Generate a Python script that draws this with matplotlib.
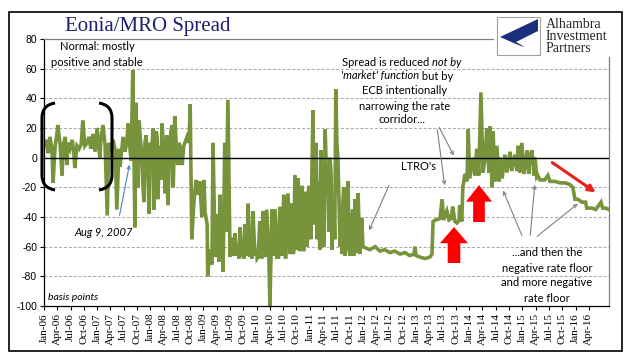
import matplotlib.pyplot as plt
import matplotlib.patches as mpatches
from matplotlib.path import Path
import numpy as np

# ---------------------- data (decimal year, spread in bp) ----------------------
years = [
    2006.00, 2006.04, 2006.08, 2006.11, 2006.15, 2006.17, 2006.21, 2006.24, 2006.26, 2006.30,
    2006.34, 2006.36, 2006.40, 2006.43, 2006.45, 2006.49, 2006.53, 2006.56, 2006.58, 2006.62,
    2006.66, 2006.70, 2006.73, 2006.77, 2006.81, 2006.85, 2006.88, 2006.92, 2006.96, 2007.00,
    2007.03, 2007.05, 2007.07, 2007.11, 2007.15, 2007.19, 2007.22, 2007.26, 2007.30, 2007.34,
    2007.37, 2007.41, 2007.43, 2007.47, 2007.49, 2007.52, 2007.56, 2007.58, 2007.62, 2007.64,
    2007.67, 2007.69, 2007.71, 2007.73, 2007.77, 2007.81, 2007.84, 2007.86, 2007.90, 2007.94,
    2007.98, 2008.00, 2008.03, 2008.05, 2008.09, 2008.13, 2008.14, 2008.18, 2008.22, 2008.26,
    2008.28, 2008.31, 2008.33, 2008.37, 2008.41, 2008.45, 2008.46, 2008.50, 2008.54, 2008.58,
    2008.60, 2008.63, 2008.69, 2008.73, 2008.75, 2008.78, 2008.82, 2008.86, 2008.90, 2008.93,
    2008.97, 2009.01, 2009.03, 2009.07, 2009.08, 2009.12, 2009.16, 2009.18, 2009.22, 2009.25,
    2009.29, 2009.31, 2009.35, 2009.37, 2009.40, 2009.42, 2009.46, 2009.50, 2009.54, 2009.57,
    2009.59, 2009.63, 2009.69, 2009.72, 2009.78, 2009.82, 2009.84, 2009.87, 2009.93, 2009.97,
    2010.03, 2010.06, 2010.10, 2010.12, 2010.16, 2010.19, 2010.23, 2010.25, 2010.27, 2010.29,
    2010.33, 2010.35, 2010.38, 2010.44, 2010.48, 2010.51, 2010.55, 2010.59, 2010.63, 2010.66,
    2010.70, 2010.72, 2010.76, 2010.78, 2010.82, 2010.85, 2010.89, 2010.91, 2010.95, 2010.98,
    2011.02, 2011.06, 2011.10, 2011.12, 2011.14, 2011.15, 2011.19, 2011.23, 2011.27, 2011.29,
    2011.32, 2011.34, 2011.38, 2011.42, 2011.45, 2011.49, 2011.53, 2011.55, 2011.57, 2011.61,
    2011.62, 2011.66, 2011.72, 2011.76, 2011.79, 2011.83, 2011.85, 2011.89, 2011.91, 2011.94,
    2011.98, 2012.00, 2012.06, 2012.13, 2012.23, 2012.32, 2012.41, 2012.51, 2012.60, 2012.70,
    2012.79, 2012.88, 2012.96, 2012.98, 2013.00, 2013.07, 2013.17, 2013.26, 2013.30, 2013.32,
    2013.37, 2013.45, 2013.49, 2013.52, 2013.58, 2013.62, 2013.66, 2013.69, 2013.73, 2013.77,
    2013.81, 2013.82, 2013.86, 2013.88, 2013.92, 2013.96, 2013.98, 2014.01, 2014.07, 2014.11,
    2014.14, 2014.18, 2014.22, 2014.26, 2014.30, 2014.33, 2014.37, 2014.39, 2014.43, 2014.45,
    2014.48, 2014.52, 2014.56, 2014.58, 2014.62, 2014.67, 2014.71, 2014.77, 2014.80, 2014.86,
    2014.90, 2014.92, 2014.95, 2014.99, 2015.03, 2015.09, 2015.12, 2015.14, 2015.18, 2015.22,
    2015.24, 2015.27, 2015.29, 2015.33, 2015.42, 2015.48, 2015.52, 2015.61, 2015.71, 2015.80,
    2015.89, 2015.95, 2015.99, 2016.04, 2016.12, 2016.19, 2016.21, 2016.31, 2016.38, 2016.48,
    2016.51, 2016.57, 2016.63,
]
spread = [
    8, 12, 3, 14, 6, -17, 8, 15, 22, 10,
    -12, 8, 14, -5, 10, 6, 12, 4, -7, 8,
    6, 9, 25, 8, 10, 14, 6, 16, 4, 20,
    8, 0, 12, 22, 8, -39, 10, 4, 12, 5,
    -35, 6, -6, 8, 14, 4, 10, 23, 5, -2,
    59, 10, -47, 37, -20, 14, 2, -18, 10, 5,
    -38, 10, 6, 20, 0, 14, -28, 8, 23, 2,
    -24, 15, -32, 10, 22, 5, 28, 0, 10, 5,
    -5, 8, 14, 10, 36, -55, -30, -15, -25, -16,
    -40, -15, -37, -45, -80, -62, -72, 10, -67, -38,
    -70, -25, -55, -77, 10, -50, 39, -67, -54, -66,
    -51, -66, -47, -67, -45, -66, -31, -67, -36, -66,
    -67, -43, -67, -36, -67, -35, -66, -100, -67, -35,
    -66, -35, -68, -33, -66, -25, -67, -24, -65, -31,
    -63, -12, -62, -14, -60, -19, -62, -23, -60, -19,
    -55, 32, -30, 10, -55, -16, -62, -50, -60, 19,
    -20, -7, 0, -62, -30, 46, 0, -30, -60, -65,
    -31, -66, -16, -66, -40, -66, -28, -64, -24, -65,
    -41, -60, -61, -62, -60, -63, -62, -64, -63, -65,
    -64, -66, -65, -60, -66, -67, -68, -67, -65, -43,
    -42, -41, -28, -42, -36, -42, -41, -33, -43, -44,
    -42, -32, -43, -20, -11, -16, 19, -14, 0, -12,
    6, -12, 44, -10, 0, 20, -10, 21, -20, 18,
    -16, 8, -16, 0, -14, 2, -10, 4, -9, 2,
    -9, 8, -10, 10, -11, 5, -11, 0, 5, -12,
    0, -13, -12, -15, -15, -12, -16, -16, -17, -17,
    -18, -20, -28, -28, -30, -30, -34, -34, -35, -30,
    -34, -34, -35,
]
# extra daily spikes read from the denser stretches (2007-2011)
extra_years = [
    2007.75, 2007.79, 2007.88, 2007.92, 2008.07, 2008.11, 2008.20, 2008.24, 2008.35, 2008.39,
    2008.43, 2008.48, 2008.52,
    2009.65, 2009.67, 2009.75, 2009.76, 2009.90, 2009.91, 2010.00, 2010.01, 2010.08, 2010.09,
    2010.14, 2010.40, 2010.41, 2010.53, 2010.54, 2010.68, 2010.69, 2010.80, 2010.81, 2010.87,
    2010.88,
    2011.08, 2011.17, 2011.21, 2011.25, 2011.36, 2011.40, 2011.47, 2011.51, 2011.59, 2011.64,
    2011.68, 2011.70, 2011.74, 2011.81, 2011.87,
]
extra_spread = [
    -10, 25, -30, 15, -35, 18, -15, 12, -10, 18,
    -20, 15, -5,
    -60, -68, -58, -68, -55, -68, -62, -68, -57, -68,
    -60, -56, -68, -50, -67, -45, -65, -40, -63, -35,
    -62,
    -45, -40, 5, -45, -50, -10, -55, 10, -45, -20,
    -62, -35, -60, -35, -50,
]

months = ['Jan', 'Apr', 'Jul', 'Oct']
tick_years = [2006 + q * 0.25 for q in range(42)]
tick_labels = [f"{months[q % 4]}-{(6 + q // 4):02d}" for q in range(42)]

line_color = '#77933C'
W, H = 634, 361


def fx(px):
    return px / W


def fy(py):
    return 1 - py / H


all_years = np.array(years + extra_years)
all_spread = np.array(spread + extra_spread)
order = np.argsort(all_years, kind='stable')

fig = plt.figure(figsize=(6.34, 3.61), dpi=100)
ax = fig.add_axes([fx(44), fy(306), fx(609) - fx(44), fy(39) - fy(306)])

# outer frame
fig.patches.append(mpatches.Rectangle((fx(9), fy(351)), fx(622) - fx(9), fy(12) - fy(351),
                                      transform=fig.transFigure, fill=False,
                                      edgecolor='black', linewidth=1.2))

ax.set_xlim(2006.0, 2016.63)
ax.set_ylim(-100, 80)
for v in range(-80, 80, 20):
    if v != 0:
        ax.axhline(v, color='#A6A6A6', linewidth=0.7, linestyle=(0, (3, 2)), zorder=1)
ax.axhline(0, color='black', linewidth=1.0, zorder=3)

ax.plot(all_years[order], all_spread[order], color=line_color, linewidth=2.6,
        solid_joinstyle='miter', zorder=2)

ax.set_yticks(range(-100, 81, 20))
ax.set_yticklabels([str(v) for v in range(-100, 81, 20)], fontsize=7.5,
                   family='Liberation Sans')
ax.set_xticks(tick_years)
ax.set_xticklabels(tick_labels, rotation=90, fontsize=8, family='Liberation Serif')
ax.tick_params(axis='both', direction='out', length=3, width=0.8, pad=2)

ax.spines['left'].set_color('black')
ax.spines['bottom'].set_color('black')
ax.spines['top'].set_color('#808080')
ax.spines['right'].set_color('#808080')
for s in ax.spines.values():
    s.set_linewidth(0.9)

# title
fig.text(fx(65), fy(27), 'Eonia/MRO Spread', fontsize=15, family='Liberation Serif',
         color='#1F1F6E', va='center', ha='left')

# logo box
fig.patches.append(mpatches.Rectangle((fx(494), fy(57)), fx(621) - fx(494), fy(13) - fy(57),
                                      transform=fig.transFigure, facecolor='white',
                                      edgecolor='none', zorder=5))
fig.patches.append(mpatches.Rectangle((fx(497), fy(55)), fx(540) - fx(497), fy(17) - fy(55),
                                      transform=fig.transFigure, facecolor='white',
                                      edgecolor='#A0A0A0', linewidth=0.8, zorder=6))
verts = [(fx(538), fy(19)), (fx(500), fy(37)), (fx(538), fy(54)),
         (fx(516), fy(42)), (fx(538), fy(31)), (fx(538), fy(19))]
codes = [Path.MOVETO, Path.LINETO, Path.CURVE3, Path.CURVE3, Path.LINETO, Path.CLOSEPOLY]
fig.patches.append(mpatches.PathPatch(Path(verts, codes), transform=fig.transFigure,
                                      facecolor='#1B2F7A', edgecolor='none', zorder=7))
fig.text(fx(546), fy(36), 'Alhambra\nInvestment\nPartners', fontsize=10,
         family='Liberation Serif', color='#262626', va='center', ha='left',
         linespacing=0.9, zorder=8)

sans = 'Lato'
# brackets around 2006
for side in (-1, 1):
    x_in = 55 if side < 0 else 99
    x_out = 42 if side < 0 else 112
    bverts = [(fx(x_in), fy(103)), (fx(x_out), fy(105)), (fx(x_out), fy(118)),
              (fx(x_out), fy(175)), (fx(x_out), fy(188)), (fx(x_in), fy(190))]
    bcodes = [Path.MOVETO, Path.CURVE3, Path.CURVE3, Path.LINETO, Path.CURVE3, Path.CURVE3]
    fig.patches.append(mpatches.PathPatch(Path(bverts, bcodes), transform=fig.transFigure,
                                          facecolor='none', edgecolor='black',
                                          linewidth=2.2, zorder=6))

fig.text(fx(97), fy(47), 'Normal: mostly', fontsize=8, family=sans, ha='center', va='center')
fig.text(fx(97), fy(63), 'positive and stable', fontsize=8, family=sans, ha='center', va='center')
fig.text(fx(48), fy(298), 'basis points', fontsize=7.5, family=sans, style='italic',
         ha='left', va='center')
fig.text(fx(104), fy(233), 'Aug 9, 2007', fontsize=8, family=sans, style='italic',
         ha='center', va='center')


def arrow(p0, p1, color='#808080', lw=0.8, scale=6):
    fig.patches.append(mpatches.FancyArrowPatch((fx(p0[0]), fy(p0[1])), (fx(p1[0]), fy(p1[1])),
                                                transform=fig.transFigure, arrowstyle='->',
                                                mutation_scale=scale, color=color,
                                                linewidth=lw, zorder=6))


arrow((119, 218), (130, 162), color='#4F81BD')

# ECB corridor note with mixed italics
t1 = fig.text(fx(342), fy(62), 'Spread is reduced ', fontsize=8, family=sans, va='center')
ax.annotate('not by', xy=(1, 0), xycoords=t1, va='bottom', ha='left', fontsize=8,
            family=sans, style='italic')
t2 = fig.text(fx(341), fy(76), "'market' function", fontsize=8, family=sans, va='center',
              style='italic')
ax.annotate(' but by', xy=(1, 0), xycoords=t2, va='bottom', ha='left', fontsize=8, family=sans)
fig.text(fx(405), fy(91), 'ECB intentionally', fontsize=8, family=sans, ha='center', va='center')
fig.text(fx(405), fy(106), 'narrowing the rate', fontsize=8, family=sans, ha='center', va='center')
fig.text(fx(402), fy(120), 'corridor...', fontsize=8, family=sans, ha='center', va='center')
arrow((437, 127), (445, 188))
arrow((438, 125), (455, 158))

fig.text(fx(419), fy(167), "LTRO's", fontsize=8, family=sans, ha='center', va='center')
arrow((390, 183), (368, 233))

# red block arrows
for (xc, ytop, ybot, hw) in [(454, 227, 263, 14), (479, 185, 222, 13)]:
    sw = hw * 0.45
    yneck = ytop + (ybot - ytop) * 0.45
    pts = [(xc, ytop), (xc + hw, yneck), (xc + sw, yneck), (xc + sw, ybot),
           (xc - sw, ybot), (xc - sw, yneck), (xc - hw, yneck)]
    fig.patches.append(mpatches.Polygon([(fx(a), fy(b)) for a, b in pts], closed=True,
                                        transform=fig.transFigure, facecolor='#FF0000',
                                        edgecolor='none', zorder=6))
fig.patches.append(mpatches.FancyArrowPatch((fx(550), fy(161)), (fx(598), fy(194)),
                                            transform=fig.transFigure, arrowstyle='-|>',
                                            mutation_scale=10, color='#E8201E',
                                            linewidth=2.2, zorder=6))

for i, line in enumerate(['...and then the', 'negative rate floor',
                          'and more negative', 'rate floor']):
    fig.text(fx(547), fy(253 + 15 * i), line, fontsize=8, family=sans, ha='center', va='center')
arrow((523, 238), (502, 188))
arrow((530, 238), (535, 182))
arrow((535, 238), (580, 202))

fig.savefig('out.png', dpi=100)
